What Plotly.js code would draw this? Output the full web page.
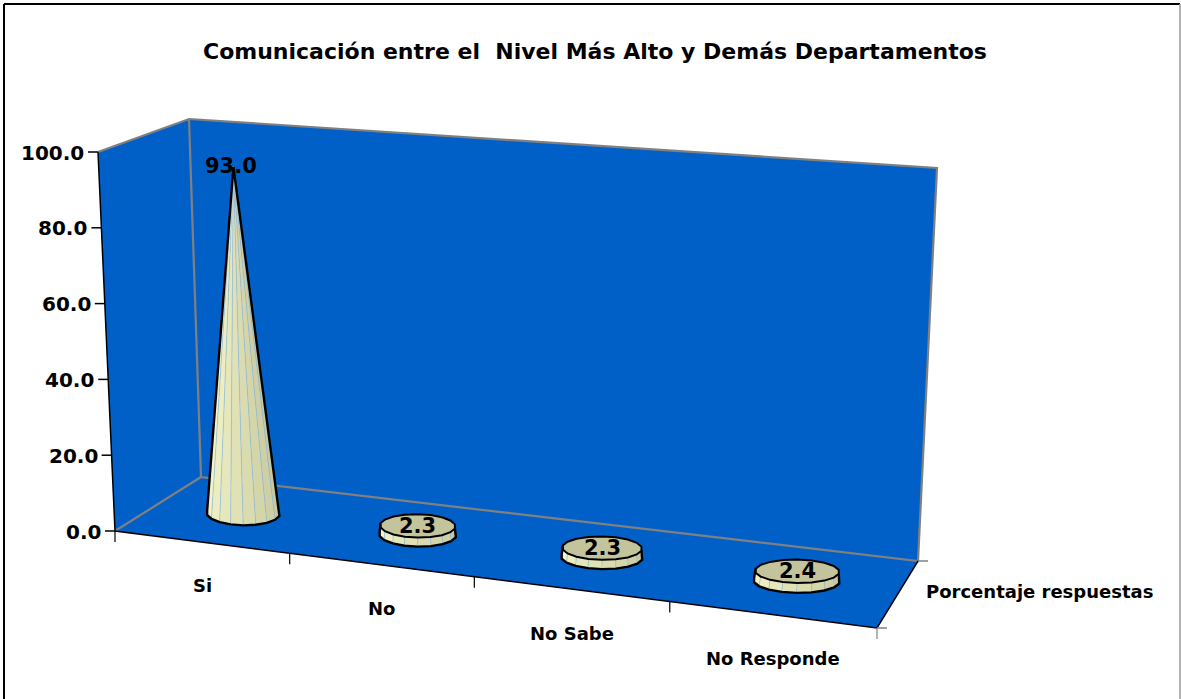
<!DOCTYPE html>
<html>
<head>
<meta charset="utf-8">
<script src="https://cdn.plot.ly/plotly-3.0.1.min.js"></script>
<style>html,body{margin:0;padding:0;background:#fff}#c{width:1181px;height:699px}</style>
</head>
<body>
<div id="c"></div>
<script>
// ---- data ----
var chartTitle = 'Comunicación entre el \u00a0Nivel Más Alto y Demás Departamentos';
var categories = ['Si', 'No', 'No Sabe', 'No Responde'];
var values = [93.0, 2.3, 2.3, 2.4];
var valueLabels = ['93.0', '2.3', '2.3', '2.4'];
var yTicks = [0, 20, 40, 60, 80, 100];
var yTickLabels = ['0.0', '20.0', '40.0', '60.0', '80.0', '100.0'];
var seriesName = 'Porcentaje respuestas';
var yMax = 100;

// ---- styling ----
var FONT = '"DejaVu Sans", sans-serif';
var BLUE = '#0060C8', GREY = '#808080', BLACK = '#000000';
var TOPFACE = '#C4C49C', STREAK = 'rgba(150,190,225,0.6)';

// ---- oblique view of the chart box ----
function homography(q) {
  var x0=q[0][0],y0=q[0][1],x1=q[1][0],y1=q[1][1],x2=q[2][0],y2=q[2][1],x3=q[3][0],y3=q[3][1];
  var dx1=x1-x2,dx2=x3-x2,sx=x0-x1+x2-x3,dy1=y1-y2,dy2=y3-y2,sy=y0-y1+y2-y3;
  var den=dx1*dy2-dx2*dy1;
  var g=(sx*dy2-dx2*sy)/den,h=(dx1*sy-sx*dy1)/den;
  var a=x1-x0+g*x1,b=x3-x0+h*x3,c=x0,d=y1-y0+g*y1,e=y3-y0+h*y3,f=y0;
  return function(u,w){var k=g*u+h*w+1;return [(a*u+b*w+c)/k,(d*u+e*w+f)/k];};
}
// corners order: front-left, front-right, back-right, back-left
var floorH = homography([[115,531],[877,628],[918,561],[201,477]]);
var topH = homography([[98,152],[922,212],[937,168],[189,119]]);
function P(u,w,val){
  var a=floorH(u,w), b=topH(u,w), t=val/yMax;
  return [a[0]+(b[0]-a[0])*t, a[1]+(b[1]-a[1])*t];
}

var traces = [];
function poly(pts, fill, lineColor, lineWidth) {
  traces.push({type:'scatter', mode:lineWidth?'lines':'none',
    x:pts.map(function(p){return p[0];}).concat([pts[0][0]]),
    y:pts.map(function(p){return p[1];}).concat([pts[0][1]]),
    fill:'toself', fillcolor:fill,
    line:{color:lineColor||fill, width:lineWidth||0}, hoverinfo:'skip', showlegend:false});
}
function path(pts, color, width) {
  traces.push({type:'scatter', mode:'lines',
    x:pts.map(function(p){return p[0];}), y:pts.map(function(p){return p[1];}),
    line:{color:color, width:width, simplify:false}, hoverinfo:'skip', showlegend:false});
}

// walls and floor
poly([P(0,0,0),P(0,1,0),P(0,1,yMax),P(0,0,yMax)], BLUE);
poly([P(0,1,0),P(1,1,0),P(1,1,yMax),P(0,1,yMax)], BLUE);
poly([P(0,0,0),P(1,0,0),P(1,1,0),P(0,1,0)], BLUE);

// box edges
path([P(0,0,yMax),P(0,1,yMax),P(1,1,yMax),P(1,1,0),P(0,1,0),P(0,1,yMax)], GREY, 2.2);
path([P(0,0,0),P(0,1,0)], GREY, 2.2);
path([P(0,0,yMax),P(0,0,0),P(1,0,0),P(1,1,0)], BLACK, 1.5);

// tick marks
yTicks.forEach(function(v){var p=P(0,0,v); path([[p[0]-10,p[1]],p], BLACK, 1.5);});
for (var i=0;i<=categories.length;i++){
  var p=P(i/categories.length,0,0);
  path([p,[p[0],p[1]+11]], i===categories.length?GREY:BLACK, 1.2);
}
var fr=P(1,0,0), br=P(1,1,0);
path([fr,[fr[0]+10,fr[1]]], GREY, 1.5);
path([br,[br[0]+10,br[1]]], GREY, 1.5);

// cones, cut off where the value ends
var maxVal = Math.max.apply(null, values);
var N = 18, BR = 0.054, RY = 12;
function ring(u, val, scale) {
  var c=P(u,0.5,val), a=P(u-BR,0.5,val), b=P(u+BR,0.5,val);
  var rx=Math.abs(b[0]-a[0])/2*scale, tilt=(b[1]-a[1])/2*scale*0.12, out=[];
  for (var k=0;k<=N;k++){
    var th=Math.PI*2*(k+0.5)/N;
    out.push([c[0]+rx*Math.cos(th), c[1]+RY*scale*Math.sin(th)+tilt*Math.cos(th)]);
  }
  return out;
}
function mix(t){
  var a=[252,252,208], b=[198,198,156];
  return 'rgb('+a.map(function(v,i){return Math.round(v+(b[i]-v)*t);}).join(',')+')';
}
values.forEach(function(val,i){
  var u=(i+0.5)/categories.length;
  var r=1-val/maxVal;
  var base=ring(u,0,1), top=ring(u,val,r);
  // facets on the near side, ordered left to right
  var arc=[];
  for (var k=N/2-1;k>=0;k--){
    var shade=1-(k+0.5)/(N/2);
    poly([base[k+1],base[k],top[k],top[k+1]], mix(shade), STREAK, 0.8);
    arc.push(base[k+1]);
  }
  arc.push(base[0]);
  if (r>0.01) poly(top.slice(0,N), TOPFACE, BLACK, 2);
  // silhouette
  path([top[N/2]].concat(arc).concat([top[0]]), BLACK, 2.4);
});

// text
var annotations=[];
function label(x,y,text,size,anchor){
  annotations.push({xref:'x',yref:'y',x:x,y:y,text:text,showarrow:false,
    xanchor:anchor||'center',yanchor:'middle',
    font:{family:FONT,size:size,color:BLACK}});
}
label(595,51,'<b>'+chartTitle+'</b>',22);
yTicks.forEach(function(v,i){var p=P(0,0,v); label(p[0]-12,p[1]+0.5,'<b>'+yTickLabels[i]+'</b>',20,'right');});
categories.forEach(function(c,i){var p=P((i+0.5)/categories.length,0,0); label(p[0]+1,p[1]+44,'<b>'+c+'</b>',18);});
label(924,591,'<b>'+seriesName+'</b>',18,'left');
values.forEach(function(val,i){
  var p=P((i+0.5)/categories.length,0.5,val);
  label(p[0]-(val>50?2:0),p[1]+(val>50?-1:0),'<b>'+valueLabels[i]+'</b>',21);
});

var frame=[
  {type:'line',xref:'x',yref:'y',x0:4,y0:4,x1:1180,y1:4,line:{color:BLACK,width:2}},
  {type:'line',xref:'x',yref:'y',x0:4,y0:4,x1:4,y1:699,line:{color:BLACK,width:2}},
  {type:'line',xref:'x',yref:'y',x0:1180,y0:4,x1:1180,y1:699,line:{color:'#9a9a9a',width:1.5}}
];

Plotly.newPlot('c', traces, {
  width:1181,height:699,margin:{l:0,r:0,t:0,b:0},
  paper_bgcolor:'#fff',plot_bgcolor:'#fff',showlegend:false,hovermode:false,
  xaxis:{range:[0,1181],visible:false,fixedrange:true},
  yaxis:{range:[699,0],visible:false,fixedrange:true},
  annotations:annotations,shapes:frame
},{displayModeBar:false,staticPlot:true});
</script>
</body>
</html>
